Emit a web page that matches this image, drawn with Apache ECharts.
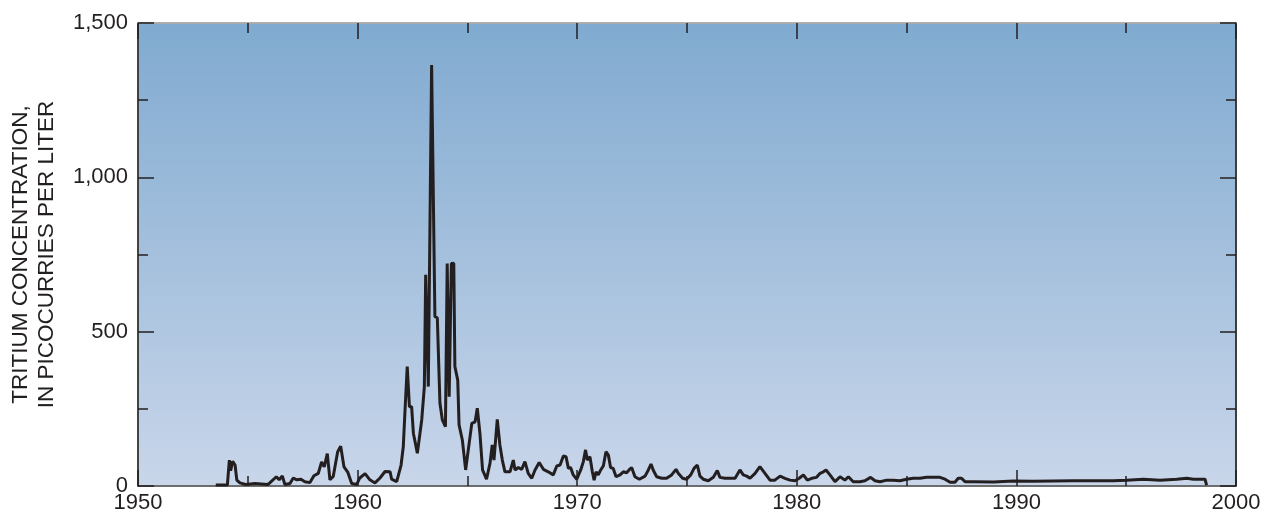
<!DOCTYPE html>
<html>
<head>
<meta charset="utf-8">
<script src="https://cdn.jsdelivr.net/npm/echarts@6/dist/echarts.min.js"></script>
<style>html,body{margin:0;padding:0;background:#fff;}#c{width:1266px;height:515px;}</style>
</head>
<body>
<div id="c"></div>
<script>
const years = [1953.54,1954.07,1954.16,1954.22,1954.31,1954.42,1954.5,1954.64,1954.9,1955.33,1955.9,1956.0,1956.3,1956.43,1956.57,1956.69,1956.92,1957.07,1957.23,1957.42,1957.6,1957.83,1958.01,1958.21,1958.36,1958.48,1958.62,1958.74,1958.89,1959.09,1959.23,1959.38,1959.55,1959.73,1959.96,1960.1,1960.34,1960.56,1960.79,1961.02,1961.25,1961.48,1961.55,1961.78,1961.98,1962.08,1962.16,1962.26,1962.36,1962.46,1962.54,1962.61,1962.72,1962.81,1962.92,1963.04,1963.1,1963.17,1963.22,1963.37,1963.4,1963.52,1963.63,1963.75,1963.86,1963.93,1964.0,1964.08,1964.17,1964.27,1964.38,1964.43,1964.56,1964.62,1964.77,1964.92,1965.04,1965.2,1965.35,1965.45,1965.57,1965.69,1965.87,1966.03,1966.13,1966.21,1966.36,1966.48,1966.59,1966.71,1966.94,1967.09,1967.17,1967.32,1967.47,1967.62,1967.77,1967.93,1968.08,1968.27,1968.46,1968.68,1968.91,1969.07,1969.22,1969.37,1969.49,1969.6,1969.7,1969.82,1969.98,1970.16,1970.28,1970.38,1970.46,1970.58,1970.69,1970.77,1970.86,1970.96,1971.07,1971.19,1971.31,1971.42,1971.52,1971.64,1971.77,1971.95,1972.1,1972.25,1972.36,1972.48,1972.63,1972.83,1973.09,1973.24,1973.36,1973.47,1973.62,1973.85,1974.07,1974.3,1974.5,1974.6,1974.67,1974.8,1974.98,1975.17,1975.32,1975.47,1975.59,1975.74,1975.97,1976.2,1976.38,1976.5,1976.73,1976.96,1977.19,1977.41,1977.56,1977.72,1977.87,1978.1,1978.32,1978.55,1978.78,1979.0,1979.24,1979.46,1979.69,1979.92,1980.11,1980.3,1980.48,1980.68,1980.9,1981.06,1981.21,1981.33,1981.51,1981.74,1981.97,1982.19,1982.35,1982.57,1982.88,1983.1,1983.36,1983.56,1983.79,1984.09,1984.39,1984.7,1985.0,1985.3,1985.61,1985.91,1986.22,1986.52,1986.75,1986.98,1987.2,1987.35,1987.5,1987.66,1988.04,1988.95,1989.86,1990.77,1991.68,1992.59,1993.5,1994.41,1995.02,1995.78,1996.54,1997.3,1997.76,1998.06,1998.59,1998.66];
const tritium = [3,3,84,50,80,68,19,10,5,8,5,10,30,20,33,5,8,26,20,22,14,11,33,41,78,62,105,20,31,110,129,62,45,8,5,26,40,20,10,26,47,46,22,14,68,127,246,387,257,257,171,171,106,106,214,322,684,678,322,1364,1360,549,545,268,214,219,192,721,289,721,722,387,343,198,149,52,117,203,208,252,171,52,22,74,133,84,216,133,84,46,46,84,52,60,54,79,41,25,52,76,54,46,36,65,68,97,95,57,60,36,22,52,79,117,84,95,46,19,46,36,52,65,111,100,60,57,30,36,46,43,52,60,30,22,32,52,71,50,30,25,25,36,54,41,46,25,22,36,57,68,32,22,17,28,50,28,25,25,25,52,36,32,25,41,63,41,19,19,32,25,19,17,25,36,19,25,28,41,46,52,36,14,30,19,30,14,14,17,28,17,14,19,19,17,22,25,25,28,28,28,22,12,12,25,25,14,14,13,16,15,16,17,17,17,19,22,19,22,25,22,22,3];
const xTickLabels = [1950,1960,1970,1980,1990,2000];
const yTickLabels = ['0','500','1,000','1,500'];

const chart = echarts.init(document.getElementById('c'));
const font = 'Liberation Sans, Arial, sans-serif';
const tickColor = '#231F20';
function xa(pos, interval, len, labels, lineColor){
  return {type:'value', position:pos, min:1950, max:2000, interval:interval,
    axisLine:{show:true, onZero:false, lineStyle:{color:lineColor, width:1.5}},
    axisTick:{show:true, inside:true, length:len, lineStyle:{color:tickColor, width:1.5}},
    axisLabel:{show:labels, margin:6, color:'#231F20', fontSize:22, fontFamily:font,
      formatter:v=> xTickLabels.includes(v)? String(v):''},
    splitLine:{show:false}};
}
function ya(pos, interval, len, labels, lineColor){
  return {type:'value', position:pos, min:0, max:1500, interval:interval,
    axisLine:{show:true, onZero:false, lineStyle:{color:lineColor, width:1.5}},
    axisTick:{show:true, inside:true, length:len, lineStyle:{color:tickColor, width:1.5}},
    axisLabel:{show:labels, margin:10, color:'#231F20', fontSize:22, fontFamily:font,
      formatter:v=> yTickLabels[v/500]},
    splitLine:{show:false}};
}
const yLeft = ya('left',500,16,true,'#3a3a3a');
yLeft.name = 'TRITIUM CONCENTRATION,\nIN PICOCURRIES PER LITER';
yLeft.nameLocation = 'middle';
yLeft.nameRotate = 90;
yLeft.nameGap = 78;
yLeft.nameTextStyle = {fontSize:22.5, fontFamily:font, color:'#231F20', lineHeight:26};

chart.setOption({
  animation:false,
  grid:{left:138, right:30, top:23, bottom:29, show:true, borderWidth:0,
    containLabel:false, outerBoundsMode:'none',
    backgroundColor:new echarts.graphic.LinearGradient(0,0,0,1,[
      {offset:0,color:'#80AAD0'},{offset:1,color:'#C9D6EA'}])},
  xAxis:[xa('bottom',10,16,true,'#666'), xa('bottom',5,10,false,'#666'),
         xa('top',10,16,false,'#aaa'), xa('top',5,10,false,'#aaa')],
  yAxis:[yLeft, ya('left',250,10,false,'#3a3a3a'),
         ya('right',500,16,false,'#333'), ya('right',250,10,false,'#333')],
  series:[{type:'line', xAxisIndex:0, yAxisIndex:0, showSymbol:false,
    lineStyle:{color:'#231F20', width:3}, data: years.map((y,i)=>[y,tritium[i]])}]
});
</script>
</body>
</html>
